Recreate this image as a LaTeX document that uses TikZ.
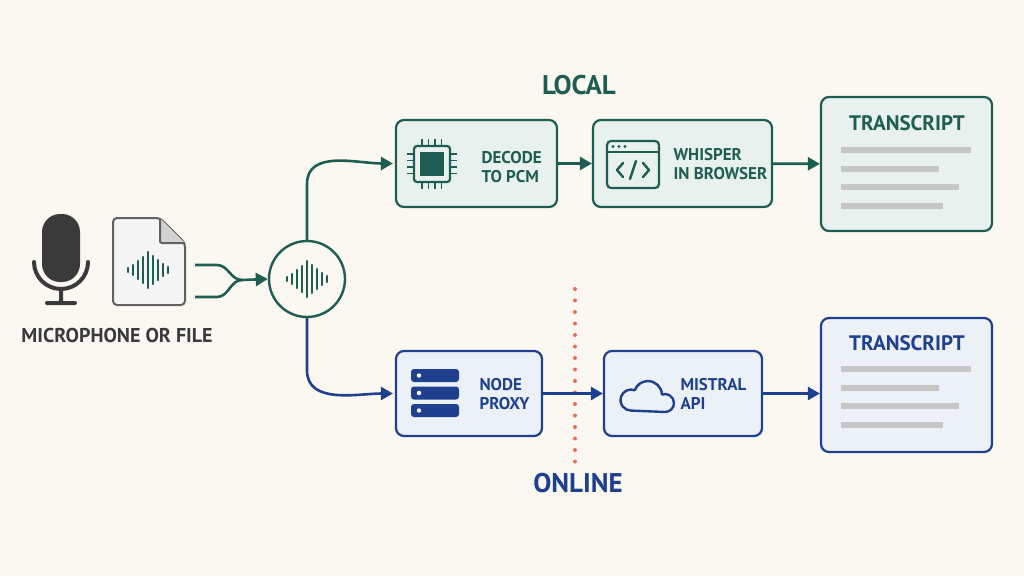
\documentclass[tikz,border=0pt]{standalone}
\usepackage{fontspec}
\setmainfont{PT Sans}
\usetikzlibrary{positioning,arrows.meta,calc}
\definecolor{bgc}{HTML}{FBF8F2}
\definecolor{loc}{HTML}{1E5E52}
\definecolor{locfill}{HTML}{E8F1ED}
\definecolor{onl}{HTML}{1F3F8F}
\definecolor{onlfill}{HTML}{ECF1F8}
\definecolor{ink}{HTML}{3A3A3A}
\definecolor{dot}{HTML}{EE6E4E}
\newcommand{\WaveAt}[3]{% x, y, colour
  \foreach \dx/\h in {-22/2,-17/5,-12/9,-7/13,-2/18,3/14,8/10,13/6,18/3}
    \draw[#3, line width=2.4pt, line cap=round] (#1+\dx,#2-\h) -- (#1+\dx,#2+\h);
}
\tikzset{
  Box/.style={draw, rounded corners=8pt, line width=2.2pt, inner sep=0pt},
  LocBox/.style={Box, draw=loc, fill=locfill},
  OnlBox/.style={Box, draw=onl, fill=onlfill},
  Label/.style={font=\bfseries\fontsize{17}{19}\selectfont, align=left, anchor=west},
  Flow/.style={line width=2.6pt, -{Triangle[length=12pt,width=13pt]}},
  Title/.style={font=\bfseries\fontsize{27}{29}\selectfont},
  Head/.style={font=\bfseries\fontsize{21}{23}\selectfont},
}
\begin{document}
\begin{tikzpicture}[x=1pt,y=-1pt]
\fill[bgc] (0,0) rectangle (1024,576);
\useasboundingbox (0,0) rectangle (1024,576);

% titles
\node[Title, text=loc] (local) at (579,85) {LOCAL};
\node[Title, text=onl] (online) at (578,483) {ONLINE};

% microphone
\fill[ink, rounded corners=18pt] (42,214) rectangle (80,282);
\draw[ink, line width=4pt, line cap=round] (34,262) arc[start angle=180,end angle=0,radius=27]
  (61,290) -- (61,302) (47,303) -- (75,303);

% file
\draw[ink!80, line width=2pt, fill=white!92!gray, rounded corners=4pt]
  (113,218) -- (160,218) -- (185,243) -- (185,305) -- (113,305) -- cycle;
\draw[ink!80, line width=2pt, fill=gray!35, rounded corners=2pt] (160,218) -- (160,243) -- (185,243);
\WaveAt{150}{270}{loc}
\node[font=\bfseries\fontsize{20}{22}\selectfont, text=ink] (srclabel) at (117,335) {MICROPHONE OR FILE};

% hub
\node[circle, draw=loc, line width=2.4pt, fill=bgc, minimum size=76pt] (hub) at (307,279) {};
\WaveAt{309}{279}{loc}
\coordinate (inA) at (195,265);
\coordinate (inB) at (195,297);
\coordinate (join) at (242,280);

% local row
\node[LocBox, minimum width=161pt, minimum height=87pt] (decode) at (476.5,163.5) {};
\node[LocBox, minimum width=179pt, minimum height=87pt] (whisper) at (682.5,163.5) {};
\node[LocBox, minimum width=171pt, minimum height=134pt] (tlocal) at (906.5,164) {};
\node[Label, text=loc] (decodetxt) at (478,167) {DECODE\\TO PCM};
\node[Label, text=loc] (whispertxt) at (670,164) {WHISPER\\IN BROWSER};
\node[Head, text=loc] (tlocaltxt) at (907,123) {TRANSCRIPT};

% online row
\node[OnlBox, minimum width=146pt, minimum height=85pt] (proxy) at (469,393.5) {};
\node[OnlBox, minimum width=158pt, minimum height=85pt] (mistral) at (683,393.5) {};
\node[OnlBox, minimum width=171pt, minimum height=134pt] (tonline) at (906.5,385) {};
\node[Label, text=onl] (proxytxt) at (476,394) {NODE\\PROXY};
\node[Label, text=onl] (mistraltxt) at (677,394) {MISTRAL\\API};
\node[Head, text=onl] (tonlinetxt) at (907,343) {TRANSCRIPT};

% transcript lines
\foreach \y/\w in {0/130,1/98,2/118,3/102} {
  \fill[gray!45] (841,147+\y*18.5) rectangle (841+\w,153+\y*18.5);
  \fill[gray!45] (841,366+\y*18.5) rectangle (841+\w,372+\y*18.5);
}

% chip icon
\draw[loc, line width=2.2pt, rounded corners=3pt] (414,146) rectangle (450,182);
\fill[loc] (420,152) rectangle (444,176);
\foreach \t in {0,1,2,3} {
  \draw[loc, line width=1.8pt] (422+\t*6.5,146) -- (422+\t*6.5,139) (422+\t*6.5,182) -- (422+\t*6.5,189)
    (414,154+\t*6.5) -- (407,154+\t*6.5) (450,154+\t*6.5) -- (457,154+\t*6.5);
}
% browser icon
\draw[loc, line width=2.2pt, rounded corners=4pt] (607,141) rectangle (659,188);
\draw[loc, line width=2.2pt] (607,152) -- (659,152);
\foreach \t in {0,1,2} \fill[loc] (613+\t*6,146.5) circle (1.6pt);
\draw[loc, line width=2.4pt, line cap=round, line join=round] (623,163) -- (617,170) -- (623,177)
  (643,163) -- (649,170) -- (643,177) (636,161) -- (630,179);
% server icon
\foreach \t in {0,1,2} {
  \fill[onl, rounded corners=3pt] (411,369+\t*17.5) rectangle (459,382+\t*17.5);
  \fill[white] (419,375.5+\t*17.5) circle (2.2pt);
}
% cloud icon
\draw[onl, line width=2.4pt, line join=round] (665,412)
  arc[start angle=90,end angle=-110,radius=9] arc[start angle=-2,end angle=-160,radius=14]
  arc[start angle=-69,end angle=-270,radius=10.5] -- cycle;

% divider
\draw[dot, line width=4pt, line cap=round, dash pattern=on 0pt off 11.5pt] (575,289) -- (575,470);

% connectors
\draw[loc, line width=2.6pt] (inA) -- ++(22,0) to[out=0,in=180] (join);
\draw[loc, line width=2.6pt] (inB) -- ++(22,0) to[out=0,in=180] (join);
\draw[loc, Flow] (join) -- (hub.west);
\draw[loc, Flow] (hub.north) -- ++(0,-56) to[out=90,in=180] ($(decode.west)+(-2,0)$);
\draw[onl, Flow] (hub.south) -- ++(0,52) to[out=-90,in=180] ($(proxy.west)+(-2,0)$);
\draw[loc, Flow] (decode) -- (whisper);
\draw[loc, Flow] (whisper) -- (tlocal);
\draw[onl, Flow] (proxy) -- (mistral);
\draw[onl, Flow] (mistral) -- (mistral -| tonline.west);
\end{tikzpicture}
\end{document}
